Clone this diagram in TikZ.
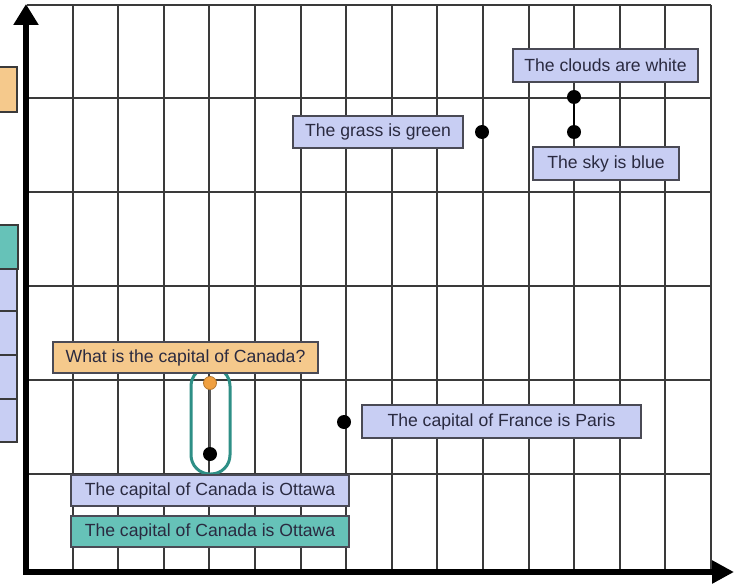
\documentclass[tikz,border=0pt]{standalone}
\usepackage{fontspec}
\setmainfont{Liberation Sans}
\usetikzlibrary{arrows.meta}
\definecolor{boxblue}{HTML}{C8CEF3}
\definecolor{boxorange}{HTML}{F5C98C}
\definecolor{boxteal}{HTML}{66C2B8}
\definecolor{capsule}{HTML}{2E8F86}
\definecolor{dotorange}{HTML}{F0A040}
\definecolor{gridgray}{HTML}{3A3A3A}
\definecolor{edgegray}{HTML}{4A4A55}
\definecolor{txtgray}{HTML}{2A2A40}
\begin{document}
\begin{tikzpicture}[x=1pt,y=-1pt,
  gridline/.style={draw=gridgray,line width=2pt},
  lbl/.style={draw=edgegray,line width=1.6pt,inner sep=0pt,text=txtgray,
    font=\fontsize{17.6}{20}\selectfont,minimum height=32pt},
  bluebox/.style={lbl,fill=boxblue},
  orangebox/.style={lbl,fill=boxorange},
  tealbox/.style={lbl,fill=boxteal},
  stub/.style={draw=gridgray,line width=2pt},
  dot/.style={circle,fill=black,inner sep=0pt,minimum size=14pt},
  odot/.style={circle,fill=dotorange,draw=dotorange!75!black,line width=0.8pt,inner sep=0pt,minimum size=13pt},
  axis/.style={line width=6pt,line join=miter,black}
]
\useasboundingbox (0,0) rectangle (738,583);
\fill[white] (0,0) rectangle (738,583);

% grid
\foreach \yy in {5,98.5,192,286,380,473.5}
  \draw[gridline] (27,\yy) -- (711,\yy);
\foreach \k in {1,...,15}
  \draw[gridline] ({27+45.6*\k},5) -- ({27+45.6*\k},570);

% left stubs
\filldraw[stub,fill=boxorange] (-4,67) rectangle (17,112);
\filldraw[stub,fill=boxteal,line width=2.6pt] (-4,225) rectangle (18,269);
\filldraw[stub,fill=boxblue] (-4,269) rectangle (17,311);
\filldraw[stub,fill=boxblue] (-4,311) rectangle (17,355);
\filldraw[stub,fill=boxblue] (-4,355) rectangle (17,399);
\filldraw[stub,fill=boxblue] (-4,399) rectangle (17,442);

% axes
\coordinate (ytip) at (26,4);
\coordinate (origin) at (26,572);
\coordinate (xtip) at (734,572);
\draw[axis,{Triangle[width=24pt,length=21pt]}-{Triangle[width=22pt,length=22pt]}] (ytip) -- (origin) -- (xtip);

% capsule
\draw[capsule,line width=3pt,rounded corners=19pt] (191,367) rectangle (230,474);

% dots
\node[odot] (q) at (210,383) {};
\node[dot] (a) at (210,454) {};
\draw[gridgray!85,line width=2pt] (q) -- (a);
\node[dot] (paris) at (344,422) {};
\node[dot] (grass) at (482,132) {};
\node[dot] (cloud) at (574,97) {};
\node[dot] (sky) at (574,132) {};
\draw[black,line width=2.5pt] (cloud) -- (sky);

% labels
\node[orangebox,minimum width=265pt,minimum height=31pt] (qlbl) at (185.5,357.5) {What is the capital of Canada?};
\node[bluebox,minimum width=278pt,minimum height=31pt] (ott1) at (210,490.5) {The capital of Canada is Ottawa};
\node[tealbox,minimum width=278pt,minimum height=31pt] (ott2) at (210,531.5) {The capital of Canada is Ottawa};
\node[bluebox,minimum width=279pt,minimum height=33pt] (fr) at (501.5,421.5) {The capital of France is Paris};
\node[bluebox,minimum width=170pt,minimum height=32pt] (gr) at (378,132) {The grass is green};
\node[bluebox,minimum width=185pt,minimum height=33pt] (cl) at (605.5,65.5) {The clouds are white};
\node[bluebox,minimum width=146pt,minimum height=33pt] (sk) at (606,163.5) {The sky is blue};
\end{tikzpicture}
\end{document}
